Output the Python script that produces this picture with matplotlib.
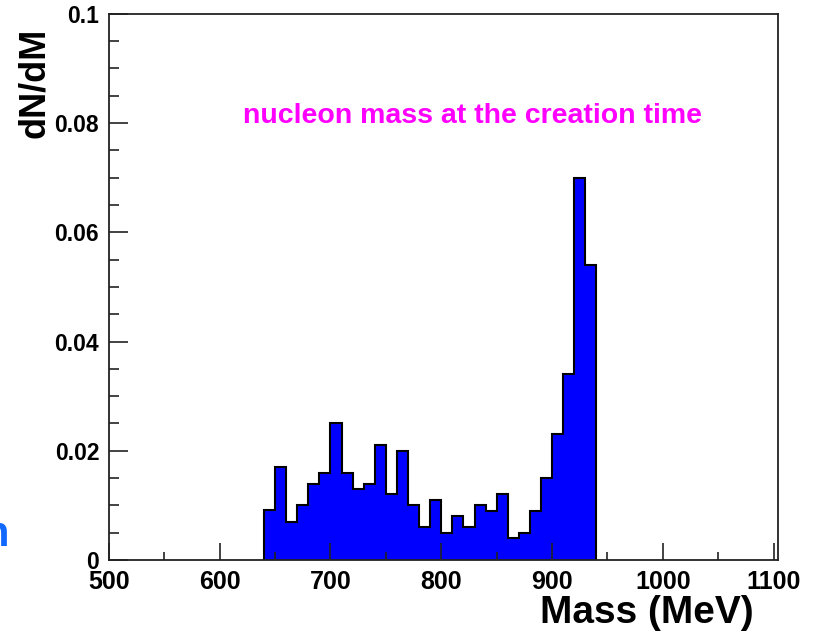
import matplotlib
matplotlib.use('Agg')
import matplotlib.pyplot as plt
import numpy as np
from matplotlib.ticker import MultipleLocator


# bin edges of the histogram (MeV), 10 MeV wide bins from 640 to 940
bin_edges = np.arange(640, 941, 10)
# dN/dM per bin
dn_dm = [
    0.0092, 0.017, 0.007, 0.010, 0.014, 0.016, 0.025, 0.016, 0.013, 0.014,
    0.021, 0.012, 0.020, 0.010, 0.006, 0.011, 0.005, 0.008, 0.006, 0.010,
    0.009, 0.012, 0.004, 0.005, 0.009, 0.015, 0.023, 0.034, 0.070, 0.054,
]
x_ticks = [500, 600, 700, 800, 900, 1000, 1100]
y_ticks = [0, 0.02, 0.04, 0.06, 0.08, 0.1]
y_tick_labels = ['0', '0.02', '0.04', '0.06', '0.08', '0.1']

AXIS_FONT = ['Liberation Sans', 'DejaVu Sans']

fig = plt.figure(figsize=(8.13, 6.31), dpi=100)
ax = fig.add_axes([0.134, 0.1125, 0.823, 0.8655])

ax.stairs(dn_dm, bin_edges, fill=True, color='#0000ff', linewidth=0)
ax.stairs(dn_dm, bin_edges, baseline=0, color='black', linewidth=1.5)

ax.set_xlim(500, 1104)
ax.set_ylim(0, 0.1)

ax.set_xticks(x_ticks)
ax.set_yticks(y_ticks)
ax.set_yticklabels(y_tick_labels)
ax.xaxis.set_minor_locator(MultipleLocator(50))
ax.yaxis.set_minor_locator(MultipleLocator(0.005))
ax.tick_params(axis='both', which='both', direction='in', top=False, right=False,
               width=1.2, colors='#222222')
ax.tick_params(axis='y', which='major', length=14, pad=7)
ax.tick_params(axis='y', which='minor', length=7)
ax.tick_params(axis='x', which='major', length=12, pad=7)
ax.tick_params(axis='x', which='minor', length=6)

for label in ax.get_xticklabels():
    label.set_family(AXIS_FONT)
    label.set_fontweight('bold')
    label.set_fontsize(18)
    label.set_color('black')
for label in ax.get_yticklabels():
    label.set_family(AXIS_FONT)
    label.set_fontweight('bold')
    label.set_fontsize(16.5)
    label.set_color('black')

for spine in ax.spines.values():
    spine.set_linewidth(1.3)
    spine.set_color('#222222')

ax.text(621, 0.080, 'nucleon mass at the creation time', color='#ff00ff',
        fontsize=20.5, fontweight='bold', family=AXIS_FONT,
        ha='left', va='baseline')

fig.text(0.927, 0.0, 'Mass (MeV)', family=AXIS_FONT, fontweight='bold',
         fontsize=28, ha='right', va='bottom')
fig.text(0.043, 0.956, 'dN/dM', family=AXIS_FONT, fontweight='bold',
         fontsize=26, rotation=90, ha='center', va='top')

# clipped fragment of slide text at the left edge
fig.text(-0.021, 0.135, 'n', family=AXIS_FONT,
         fontweight='bold', fontsize=30, color='#1068ff', ha='left', va='baseline')

fig.savefig('out.png', dpi=100)
